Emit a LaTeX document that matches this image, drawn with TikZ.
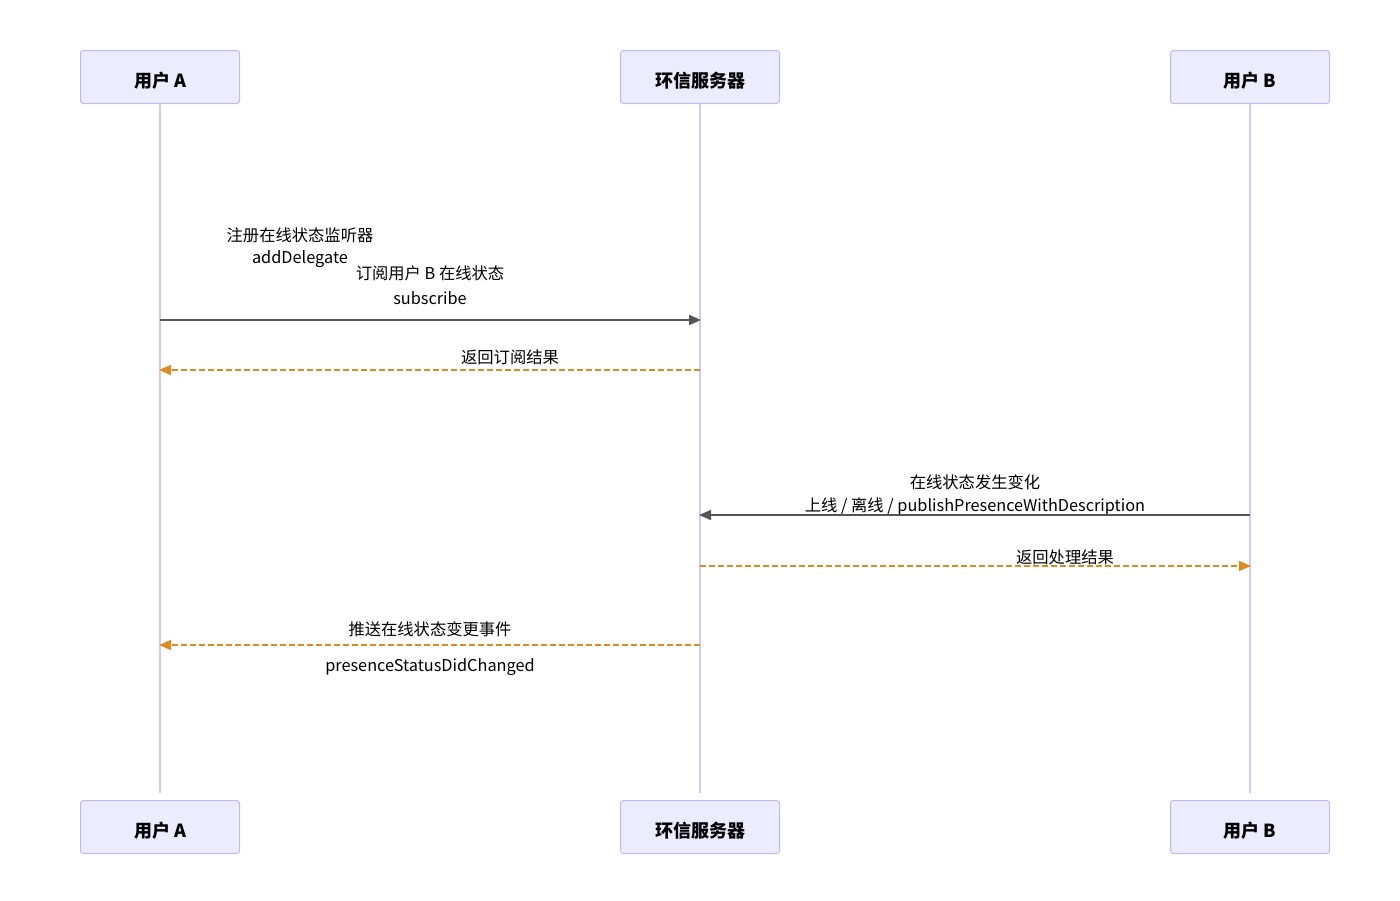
\documentclass[tikz,border=0pt]{standalone}
\usepackage{fontspec}
\setmainfont{Noto Sans CJK SC}
\usepackage{tikz}
\usetikzlibrary{arrows.meta}
\definecolor{actorfill}{HTML}{ECECFF}
\definecolor{actorline}{HTML}{C4B6F4}
\definecolor{lifeline}{HTML}{D2C8F8}
\definecolor{msgline}{HTML}{555555}
\definecolor{retline}{HTML}{DF8A20}

\begin{document}
\begin{tikzpicture}[
		x=1pt, y=-1pt,
		actor/.style={draw=actorline, fill=actorfill, rounded corners=3pt, line width=1pt,
			minimum width=159pt, minimum height=53pt, text height=20pt, text depth=0pt,
			font=\fontsize{18}{21}\selectfont\bfseries},
		life/.style={draw=lifeline, line width=1.5pt},
		msg/.style={draw=msgline, line width=1.5pt, -{Triangle[length=12pt,width=10pt]}},
		ret/.style={draw=retline, line width=1.5pt, dash pattern=on 6pt off 3pt,
			-{Triangle[length=12pt,width=10pt]}},
		lbl/.style={inner sep=0pt, font=\fontsize{16.3}{19}\selectfont}]
	\useasboundingbox (0,0) rectangle (1400,900);
	%% define actors
	\node (aTop) at (160,77) [actor] {用户 A};
	\node (sTop) at (700,77) [actor] {环信服务器};
	\node (bTop) at (1250,77) [actor] {用户 B};
	\node (aBot) at (160,827) [actor] {用户 A};
	\node (sBot) at (700,827) [actor] {环信服务器};
	\node (bBot) at (1250,827) [actor] {用户 B};
	%% define lifelines
	\draw[life, shorten >=7pt] (aTop) -- (aBot);
	\draw[life, shorten >=7pt] (sTop) -- (sBot);
	\draw[life, shorten >=7pt] (bTop) -- (bBot);
	%% define message points
	\coordinate (a1) at (160,320);  \coordinate (s1) at (701,320);
	\coordinate (a2) at (159,370);  \coordinate (s2) at (700,370);
	\coordinate (s3) at (699,515);  \coordinate (b3) at (1250,515);
	\coordinate (s4) at (700,566);  \coordinate (b4) at (1251,566);
	\coordinate (a5) at (159,645);  \coordinate (s5) at (700,645);
	%% define labels
	\node (l1a) at (300,235) [lbl] {注册在线状态监听器};
	\node (l1b) at (300,259) [lbl] {addDelegate};
	\node (l1c) at (430,273) [lbl] {订阅用户 B 在线状态};
	\node (l1d) at (430,298) [lbl] {subscribe};
	\node (l2) at (510,357) [lbl] {返回订阅结果};
	\node (l3a) at (975,482) [lbl] {在线状态发生变化};
	\node (l3b) at (975,506) [lbl] {上线 / 离线 / publishPresenceWithDescription};
	\node (l4) at (1065,557) [lbl] {返回处理结果};
	\node (l5a) at (430,629) [lbl] {推送在线状态变更事件};
	\node (l5b) at (430,667) [lbl] {presenceStatusDidChanged};
	%% define arrows
	\draw[msg] (a1) -- (s1);
	\draw[ret] (s2) -- (a2);
	\draw[msg] (b3) -- (s3);
	\draw[ret] (s4) -- (b4);
	\draw[ret] (s5) -- (a5);
\end{tikzpicture}
\end{document}
